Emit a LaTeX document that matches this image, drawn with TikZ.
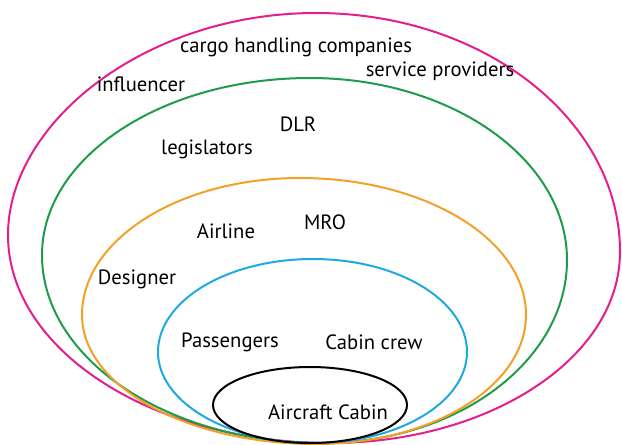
\documentclass[tikz,border=0pt]{standalone}
\usepackage{fontspec}
\setmainfont{PT Sans}

\tikzset{every picture/.style={line width=1.5pt}}
\tikzset{
  lbl/.style={font=\fontsize{15.5}{17}\selectfont, text=black, inner sep=0pt},
}

\begin{document}
\begin{tikzpicture}[x=0.75pt,y=0.75pt,yscale=-1,xscale=1]
\useasboundingbox (0,0) rectangle (622,444); %set diagram to 622 x 444

%Shape: Egg [id:outer]
\draw [color={rgb, 255:red, 228; green, 30; blue, 140 }  ,draw opacity=1 ] (8,235) .. controls (8,122.4) and (145.9,13) .. (316,13) .. controls (483.9,13) and (620,120) .. (620,252) .. controls (620,357.5) and (490.2,443) .. (330,443) .. controls (152.2,443) and (8,349.9) .. (8,235) -- cycle ;
%Shape: Egg [id:second]
\draw [color={rgb, 255:red, 30; green, 155; blue, 75 }  ,draw opacity=1 ] (42,255) .. controls (42,157.2) and (162,78) .. (310,78) .. controls (451.9,78) and (567,159.5) .. (567,260) .. controls (567,361.1) and (457.3,443) .. (322,443) .. controls (167.4,443) and (42,358.8) .. (42,255) -- cycle ;
%Shape: Egg [id:third]
\draw [color={rgb, 255:red, 243; green, 160; blue, 40 }  ,draw opacity=1 ] (82,315) .. controls (82,239.3) and (179.6,178) .. (300,178) .. controls (424.8,178) and (526,239.3) .. (526,315) .. controls (526,386.2) and (432,444) .. (316,444) .. controls (186.8,444) and (82,386.2) .. (82,315) -- cycle ;
%Shape: Egg [id:fourth]
\draw [color={rgb, 255:red, 30; green, 170; blue, 225 }  ,draw opacity=1 ] (158,352) .. controls (158,300.6) and (227.4,259) .. (313,259) .. controls (398.1,259) and (467,300.6) .. (467,352) .. controls (467,402.3) and (398.5,443) .. (314,443) .. controls (227.8,443) and (158,402.3) .. (158,352) -- cycle ;
%Shape: Ellipse [id:core]
\draw [color={rgb, 255:red, 0; green, 0; blue, 0 }  ,draw opacity=1 ] (213,405) .. controls (213,384) and (256.4,367) .. (310,367) .. controls (363.6,367) and (407,384) .. (407,405) .. controls (407,426) and (363.6,443) .. (310,443) .. controls (256.4,443) and (213,426) .. (213,405) -- cycle ;

% Text Node
\node [lbl] (cargo) at (296,47) {cargo handling companies};
% Text Node
\node [lbl] (service) at (440,71) {service providers};
% Text Node
\node [lbl] (influencer) at (141,84) {influencer};
% Text Node
\node [lbl] (dlr) at (298,124) {DLR};
% Text Node
\node [lbl] (legislators) at (207,149) {legislators};
% Text Node
\node [lbl] (airline) at (226,231) {Airline};
% Text Node
\node [lbl] (mro) at (325,222) {MRO};
% Text Node
\node [lbl] (designer) at (137,279) {Designer};
% Text Node
\node [lbl] (passengers) at (230,342) {Passengers};
% Text Node
\node [lbl] (crew) at (374,342) {Cabin crew};
% Text Node
\node [lbl] (cabin) at (328,412) {Aircraft Cabin};

\end{tikzpicture}
\end{document}
